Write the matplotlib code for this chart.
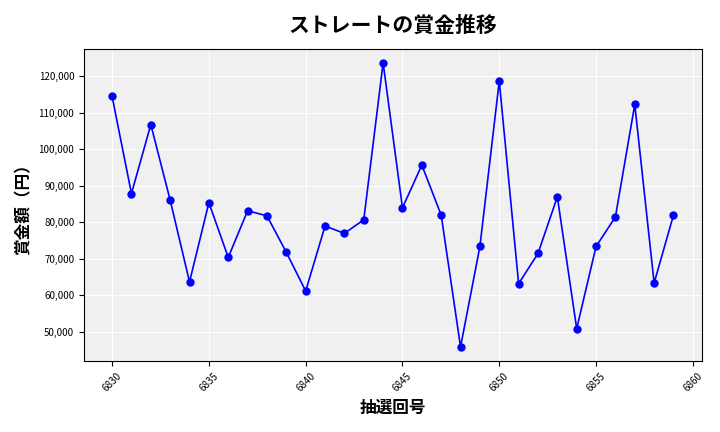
import matplotlib
matplotlib.use("Agg")
import matplotlib.pyplot as plt
from matplotlib.ticker import FuncFormatter

plt.rcParams['font.family'] = ['Noto Sans CJK JP', 'DejaVu Sans']

draws = list(range(6830, 6860))
prizes = [114400, 87800, 106700, 86000, 63600, 85300, 70300, 83100, 81700, 71700,
          61100, 78900, 76900, 80600, 123600, 83900, 95600, 81900, 45800, 73300,
          118600, 63100, 71400, 86900, 50800, 73300, 81400, 112200, 63300, 81900]

fig, ax = plt.subplots(figsize=(7.2, 4.32), dpi=100)
ax.set_facecolor('#f0f0f0')
ax.grid(True, color='white', linewidth=0.8)
ax.set_axisbelow(True)
ax.plot(draws, prizes, color='blue', marker='o', markersize=5, linewidth=1.2)
ax.set_title('ストレートの賞金推移', fontsize=15, fontweight='bold', pad=12)
ax.set_xlabel('抽選回号', fontsize=12, fontweight='bold')
ax.set_ylabel('賞金額（円）', fontsize=12, fontweight='bold')
ax.yaxis.set_major_formatter(FuncFormatter(lambda v, p: f'{int(v):,}'))
ax.tick_params(axis='both', labelsize=7)
plt.setp(ax.get_xticklabels(), rotation=45)
fig.tight_layout()
fig.savefig('out.png')
